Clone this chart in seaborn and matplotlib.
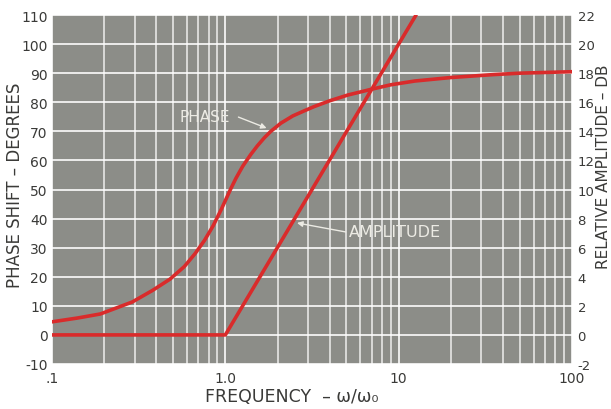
import numpy as np
import pandas as pd
import matplotlib
matplotlib.use("Agg")
import matplotlib.pyplot as plt
import seaborn as sns
from matplotlib.ticker import FixedLocator, FixedFormatter, LogLocator, NullFormatter

# ---- data ----
phase_freq = [0.1, 0.14, 0.19, 0.29, 0.38, 0.48, 0.58, 0.67, 0.76, 0.85, 0.95,
              1.07, 1.15, 1.26, 1.4, 1.53, 1.68, 1.83, 2.09, 2.45, 2.84, 3.25,
              4.0, 5.1, 7.0, 9.0, 12.4, 20, 35, 50, 100]
phase_deg = [4.5, 5.8, 7.2, 11.3, 15.3, 19.2, 23.5, 28, 32.6, 37.5, 43.3,
             50, 53.8, 58, 62, 65, 67.8, 70, 72.8, 75.3, 77, 78.5,
             80.5, 82.5, 84.5, 86, 87.3, 88.5, 89.5, 90, 90.5]

amp_freq = [0.1, 1.0, 10, 12.6]
amp_db = [0, 0, 20, 22]

x_ticks = [0.1, 1, 10, 100]
x_ticklabels = [".1", "1.0", "10", "100"]
left_ticks = list(range(-10, 111, 10))
right_ticks = list(range(-2, 23, 2))

# ---- style ----
sns.set_style("white")
plt.rcParams['font.family'] = ['DejaVu Sans']
TXT = "#3a3a38"
RED = "#d92b2b"
BG = "#8c8d88"
LBL = "#ecebe4"

fig = plt.figure(figsize=(6.11, 4.10), dpi=100)
ax = fig.add_axes([52/611, 45/410, 520/611, 349/410])
ax.set_facecolor(BG)

phase_df = pd.DataFrame({"freq": phase_freq, "phase": phase_deg})
amp_df = pd.DataFrame({"freq": amp_freq, "amp": amp_db})

sns.lineplot(data=phase_df, x="freq", y="phase", ax=ax, color=RED, lw=2.6,
             estimator=None, sort=False)
ax.set_xscale("log")
ax.set_xlim(0.1, 100)
ax.set_ylim(-10, 110)

ax.xaxis.set_major_locator(FixedLocator(x_ticks))
ax.xaxis.set_major_formatter(FixedFormatter(x_ticklabels))
ax.xaxis.set_minor_locator(LogLocator(base=10, subs=np.arange(2, 10)))
ax.xaxis.set_minor_formatter(NullFormatter())
ax.set_yticks(left_ticks)
ax.set_yticklabels([str(v) for v in left_ticks])

ax.grid(True, which="major", axis="both", color="white", lw=1.3, alpha=0.9)
ax.grid(True, which="minor", axis="x", color="white", lw=1.1, alpha=0.85)
ax.set_axisbelow(True)
ax.tick_params(axis="both", which="both", length=0, labelsize=10, colors=TXT)
ax.tick_params(axis="y", pad=3)
ax.tick_params(axis="x", pad=5)
for s in ax.spines.values():
    s.set_visible(False)
ax.set_xlabel("")
ax.set_ylabel("")

ax2 = ax.twinx()
sns.lineplot(data=amp_df, x="freq", y="amp", ax=ax2, color=RED, lw=2.6,
             estimator=None, sort=False)
ax2.set_ylim(-2, 22)
ax2.set_yticks(right_ticks)
ax2.set_yticklabels([str(v) for v in right_ticks])
ax2.tick_params(axis="y", length=0, labelsize=9.5, colors=TXT, pad=4)
ax2.grid(False)
for s in ax2.spines.values():
    s.set_visible(False)
ax2.set_xlabel("")
ax2.set_ylabel("")
ax2.set_xlim(0.1, 100)

# annotations
ax.text(1.07, 75.0, "PHASE", color=LBL, fontsize=11, ha="right", va="center")
ax.annotate("", xy=(1.73, 71.1), xytext=(1.19, 74.9),
            arrowprops=dict(arrowstyle="-|>", color=LBL, lw=1.0,
                            mutation_scale=8, shrinkA=0, shrinkB=0))
ax.text(5.15, 35.4, "AMPLITUDE", color=LBL, fontsize=11.5, ha="left", va="center")
ax.annotate("", xy=(2.59, 38.5), xytext=(4.95, 35.4),
            arrowprops=dict(arrowstyle="-|>", color=LBL, lw=1.0,
                            mutation_scale=8, shrinkA=0, shrinkB=0))

# axis titles
fig.text(15/611, 1 - 185/410, "PHASE SHIFT \u2013 DEGREES", rotation=90,
         ha="center", va="center", fontsize=12, color=TXT)
fig.text(603.5/611, 1 - 167/410, "RELATIVE AMPLITUDE \u2013 DB", rotation=90,
         ha="center", va="center", fontsize=11, color=TXT)
fig.text(292/611, 1 - 397/410, "FREQUENCY  \u2013 \u03c9/\u03c9\u2080",
         ha="center", va="center", fontsize=12.5, color=TXT)

fig.savefig("out.png", dpi=100)
